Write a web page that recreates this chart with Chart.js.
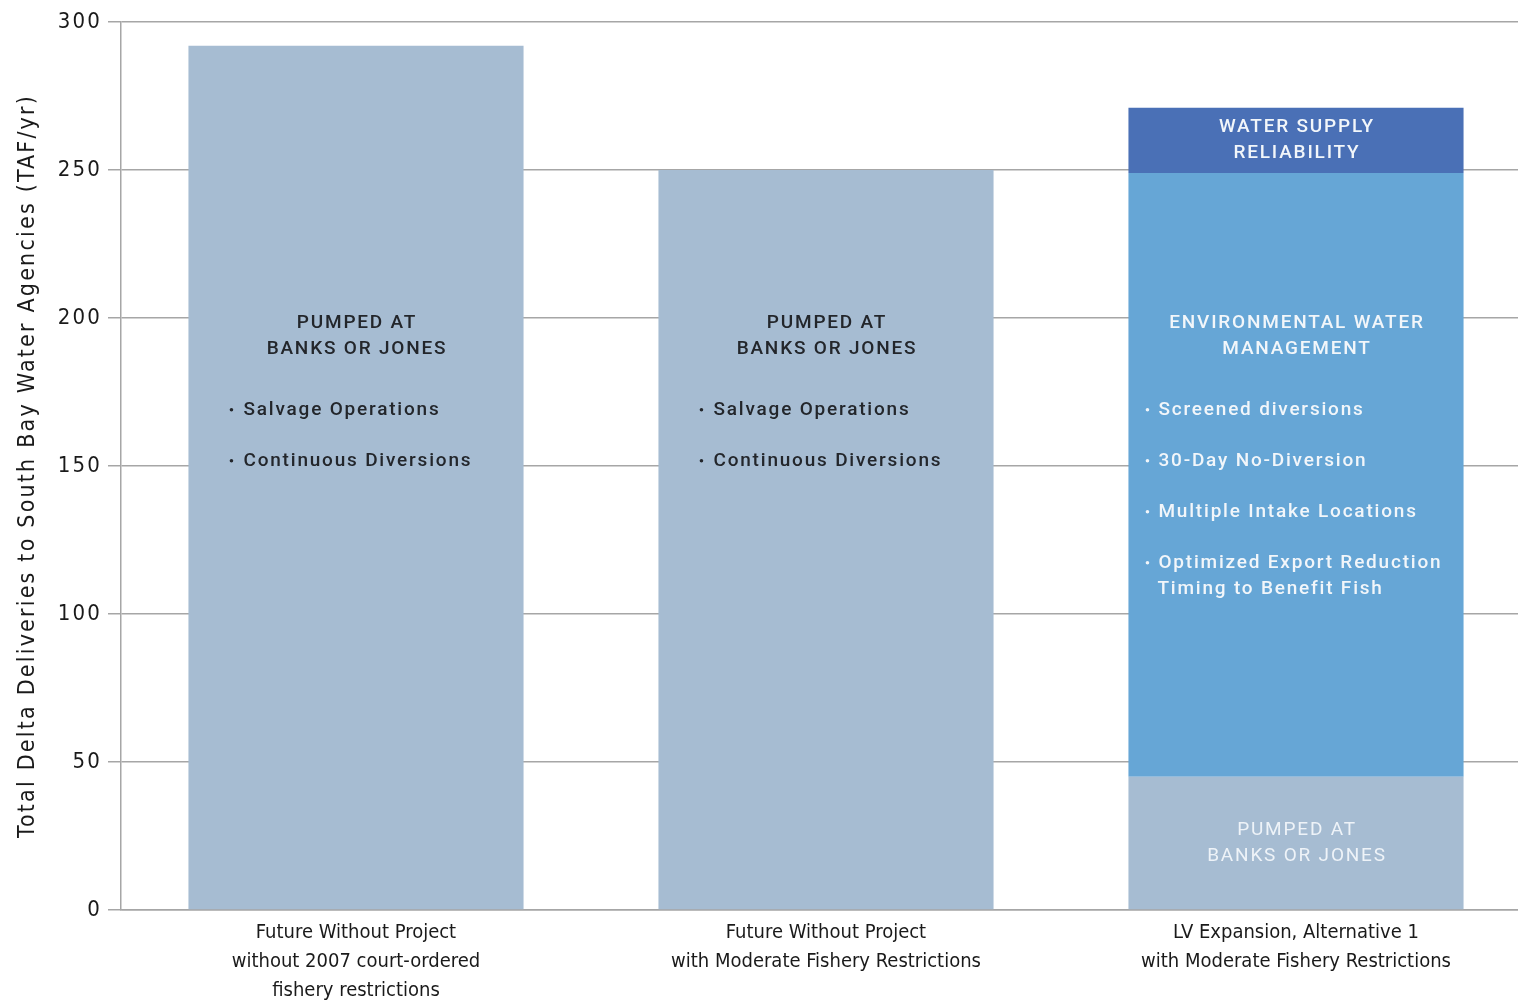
<!DOCTYPE html>
<html>
<head>
<meta charset="utf-8">
<script src="https://cdn.jsdelivr.net/npm/chart.js@4.4.1/dist/chart.umd.min.js"></script>
<style>
  html, body { margin: 0; padding: 0; background: #fff; }
  #wrap { width: 1518px; height: 1005px; }
</style>
</head>
<body>
<div id="wrap"><canvas id="deltaChart"></canvas></div>
<script>
// categories and values (TAF/yr)
const categories = [
    ['Future Without Project', 'without 2007 court-ordered', 'fishery restrictions'],
    ['Future Without Project', 'with Moderate Fishery Restrictions'],
    ['LV Expansion, Alternative 1', 'with Moderate Fishery Restrictions']
];
const pumpedValues = [292, 250, 45];
const envWaterValues = [0, 0, 204];
const supplyValues = [0, 0, 22];
const yTicks = [0, 50, 100, 150, 200, 250, 300];

// text written inside the bars
const pumpedHeader = ['PUMPED AT', 'BANKS OR JONES'];
const pumpedBullets = [['Salvage Operations'], ['Continuous Diversions']];
const envHeader = ['ENVIRONMENTAL WATER', 'MANAGEMENT'];
const envBullets = [
    ['Screened diversions'],
    ['30-Day No-Diversion'],
    ['Multiple Intake Locations'],
    ['Optimized Export Reduction', 'Timing to Benefit Fish']
];
const supplyLabel = ['WATER SUPPLY', 'RELIABILITY'];

const FONT = "'DejaVu Sans Condensed', 'Liberation Sans Narrow', sans-serif";
const NOTE_FONT = "Roboto, 'Liberation Sans', sans-serif";

// the plot runs a little past the right edge of the picture
const widenPlot = {
    id: 'widenPlot',
    afterLayout(chart) {
        const extra = 13;
        const x = chart.scales.x;
        x.right += extra;
        x.width += extra;
        x.configure();
        chart.chartArea.right += extra;
        chart.chartArea.width += extra;
    }
};

// draws the notes inside the bars
const barNotes = {
    id: 'barNotes',
    beforeDraw(chart) {
        chart.ctx.letterSpacing = '2.2px';
    },
    beforeDatasetsDraw(chart) {
        chart.ctx.letterSpacing = '0px';
    },
    afterDatasetsDraw(chart) {
        const ctx = chart.ctx;
        const y = chart.scales.y;
        const bars = chart.getDatasetMeta(0).data;
        ctx.save();
        ctx.font = '500 19px ' + NOTE_FONT;
        ctx.letterSpacing = '1.8px';
        ctx.textBaseline = 'middle';

        const headY = y.getPixelForValue(198.3);
        const bulletY = y.getPixelForValue(169);
        const line = 26;
        const gap = 51;

        const drawHeader = (lines, cx, top, color) => {
            ctx.fillStyle = color;
            ctx.textAlign = 'center';
            lines.forEach((t, k) => ctx.fillText(t, cx + 1, top + k * line));
        };
        const drawBullets = (items, left, dotOff, textOff, color) => {
            ctx.fillStyle = color;
            ctx.textAlign = 'left';
            items.forEach((lines, k) => {
                const by = bulletY + k * gap;
                ctx.beginPath();
                ctx.arc(left + dotOff, by, 1.8, 0, Math.PI * 2);
                ctx.fill();
                lines.forEach((t, j) => ctx.fillText(t, left + textOff - (j ? 1 : 0), by + j * line));
            });
        };

        [0, 1].forEach(i => {
            const b = bars[i];
            const left = b.x - b.width / 2;
            drawHeader(pumpedHeader, b.x, headY, '#23262b');
            drawBullets(pumpedBullets, left, 43, 55, '#23262b');
        });

        const b3 = chart.getDatasetMeta(1).data[2];
        const left3 = b3.x - b3.width / 2;
        const white = '#f2f6fa';
        drawHeader(envHeader, b3.x, headY, white);
        drawBullets(envBullets, left3, 19, 30, white);

        const s = chart.getDatasetMeta(2).data[2];
        const sMid = (s.y + s.base) / 2;
        drawHeader(supplyLabel, s.x, sMid - line / 2, white);

        const p = bars[2];
        const pMid = (p.y + p.base) / 2;
        ctx.font = '400 19px ' + NOTE_FONT;
        drawHeader(pumpedHeader, p.x, pMid - line / 2, '#eef3f8');
        ctx.restore();
    }
};

const ctx = document.getElementById('deltaChart').getContext('2d');
const deltaChart = new Chart(ctx, {
    type: 'bar',
    data: {
        labels: categories,
        datasets: [
            { label: 'Pumped at Banks or Jones', data: pumpedValues, backgroundColor: '#a6bcd2' },
            { label: 'Environmental Water Management', data: envWaterValues, backgroundColor: '#66a6d6' },
            { label: 'Water Supply Reliability', data: supplyValues, backgroundColor: '#4a70b6' }
        ]
    },
    options: {
        responsive: true,
        maintainAspectRatio: false,
        animation: false,
        events: [],
        layout: { padding: { left: 10, top: 22, right: 0, bottom: 0 } },
        datasets: { bar: { categoryPercentage: 1, barPercentage: 0.713, borderWidth: 0 } },
        plugins: { legend: { display: false }, tooltip: { enabled: false } },
        scales: {
            x: {
                stacked: true,
                grid: { display: false },
                border: { display: true, color: '#a6a6a6', width: 1.5 },
                ticks: {
                    z: 1,
                    color: '#1a1a1a',
                    padding: 0,
                    maxRotation: 0,
                    autoSkip: false,
                    font: { family: FONT, size: 20, lineHeight: 1.45 }
                },
                afterFit: s => { s.height = 95; }
            },
            y: {
                stacked: true,
                min: 0,
                max: 300,
                afterBuildTicks: s => { s.ticks = yTicks.map(v => ({ value: v })); },
                grid: { color: '#a6a6a6', lineWidth: 1.5, tickLength: 13 },
                border: { display: true, color: '#a6a6a6', width: 1.5 },
                ticks: {
                    color: '#1a1a1a',
                    padding: 6,
                    font: { family: FONT, size: 22 }
                },
                title: {
                    display: true,
                    text: 'Total Delta Deliveries to South Bay Water Agencies (TAF/yr)',
                    color: '#1a1a1a',
                    padding: { top: 4, bottom: 4 },
                    font: { family: FONT, size: 23 }
                },
                afterFit: s => { s.width = 111; }
            }
        }
    },
    plugins: [widenPlot, barNotes]
});
</script>
</body>
</html>
